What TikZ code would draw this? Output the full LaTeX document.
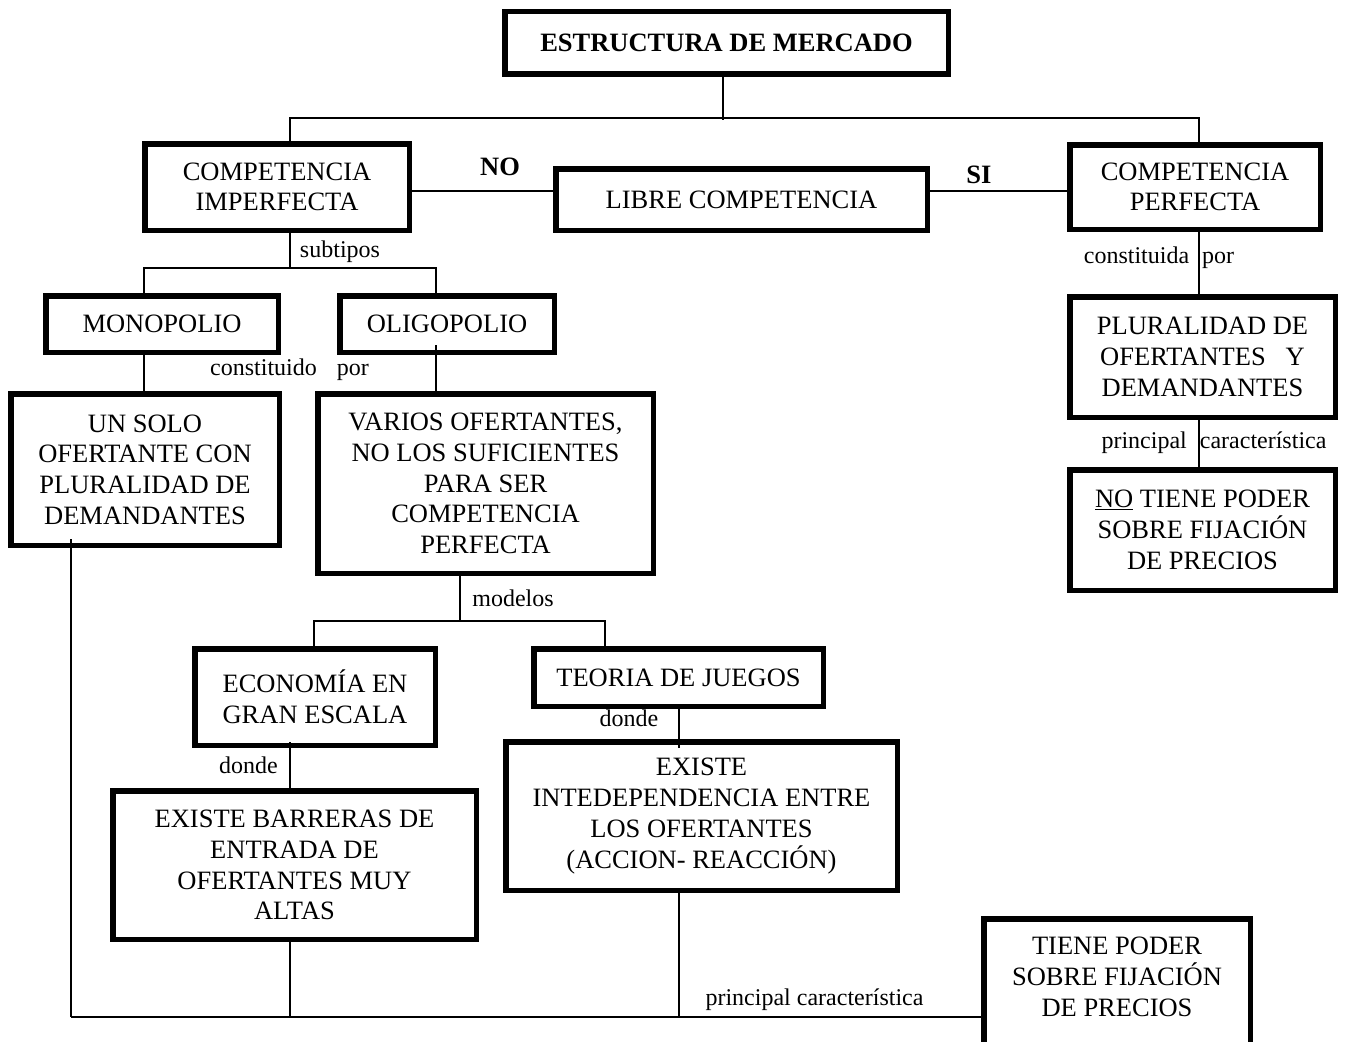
\documentclass[tikz,border=0pt]{standalone}
\usepackage{fontspec}
\setmainfont{Liberation Serif}
\begin{document}
\begin{tikzpicture}[x=1pt,y=-1pt,
  box/.style={draw, line width=5.5pt, inner sep=0pt, align=center,
    font=\fontsize{26.5}{30.7}\selectfont},
  conn/.style={line width=2pt},
  lbl/.style={inner sep=0pt, font=\fontsize{24}{28}\selectfont},
  yesno/.style={inner sep=0pt, font=\fontsize{26.5}{30}\selectfont\bfseries},
  txt/.style={inner sep=0pt, align=center, font=\fontsize{26.5}{30.7}\selectfont}]
\useasboundingbox (0,0) rectangle (1346,1041);

% boxes
\node[box, minimum width=443.5, minimum height=62.5] (top) at (726.5,43) {\bfseries ESTRUCTURA DE MERCADO};
\node[box, minimum width=264.5, minimum height=86.5] (ci) at (277,187) {COMPETENCIA\\IMPERFECTA};
\node[box, minimum width=371.5, minimum height=61.5] (lc) at (741.5,199.5) {LIBRE COMPETENCIA};
\node[box, minimum width=250.5, minimum height=84.5] (cp) at (1195,187) {COMPETENCIA\\PERFECTA};
\node[box, minimum width=232.5, minimum height=56.5] (mono) at (162,324) {MONOPOLIO};
\node[box, minimum width=214.5, minimum height=56.5] (oli) at (447,324) {OLIGOPOLIO};
\node[box, minimum width=268.5, minimum height=151.5] (unsolo) at (145,469.5) {UN SOLO\\OFERTANTE CON\\PLURALIDAD DE\\DEMANDANTES};
\node[box, minimum width=335.5, minimum height=179.5] (varios) at (485.5,483.5) {VARIOS OFERTANTES,\\NO LOS SUFICIENTES\\PARA SER\\COMPETENCIA\\PERFECTA};
\node[box, minimum width=265.5, minimum height=120.5] (plur) at (1202.5,357) {PLURALIDAD DE\\OFERTANTES\ \ \ Y\\DEMANDANTES};
\node[box, minimum width=265.5, minimum height=120.5] (notiene) at (1202.5,530) {\underline{NO} TIENE PODER\\SOBRE FIJACIÓN\\DE PRECIOS};
\node[box, minimum width=240.5, minimum height=96.5] (econ) at (315,697) {ECONOMÍA EN\\GRAN ESCALA};
\node[box, minimum width=289.5, minimum height=57.5] (teoria) at (678.5,677.5) {TEORIA DE JUEGOS};
\node[box, minimum width=363.5, minimum height=148.5] (barreras) at (294.5,865) {EXISTE BARRERAS DE\\ENTRADA DE\\OFERTANTES MUY\\ALTAS};
\node[box, minimum width=391.5, minimum height=148.5] (intedep) at (701.5,816) {EXISTE\\INTEDEPENDENCIA ENTRE\\LOS OFERTANTES\\(ACCION- REACCIÓN)};
\node[box, minimum width=266.5, minimum height=134.5] (tiene) at (1117,986) {};
\node[txt] (tienetxt) at (1117,977) {TIENE PODER\\SOBRE FIJACIÓN\\DE PRECIOS};

% junction coordinates
\coordinate (j1) at (723,120);
\coordinate (cL) at (290,118);
\coordinate (cR) at (1199,118);
\coordinate (hl) at (0,191);
\coordinate (s0) at (290,268);
\coordinate (sL) at (144,268);
\coordinate (sR) at (436,268);
\coordinate (o1) at (436,345);
\coordinate (m0) at (460,621);
\coordinate (mL) at (314,621);
\coordinate (mR) at (605,621);
\coordinate (e1) at (290,742);
\coordinate (t1) at (679,748);
\coordinate (u1) at (71,539);
\coordinate (b0) at (71,1017);
\coordinate (b1) at (290,1017);
\coordinate (b2) at (679,1017);
\coordinate (p1) at (1199,473);

% connectors
\draw[conn] (top.south -| j1) -- (j1);
\draw[conn] (ci.north -| cL) |- (cR) -- (cp.north -| cR);
\draw[conn] (ci.east |- hl) -- (lc.west |- hl);
\draw[conn] (lc.east |- hl) -- (cp.west |- hl);
\draw[conn] (ci.south -| s0) -- (s0);
\draw[conn] (mono.north -| sL) |- (sR) -- (oli.north -| sR);
\draw[conn] (mono.south -| sL) -- (unsolo.north -| sL);
\draw[conn] (o1) -- (varios.north -| o1);
\draw[conn] (varios.south -| m0) -- (m0);
\draw[conn] (econ.north -| mL) |- (mR) -- (teoria.north -| mR);
\draw[conn] (e1) -- (barreras.north -| e1);
\draw[conn] (teoria.south -| t1) -- (t1);
\draw[conn] (cp.south -| cR) -- (plur.north -| cR);
\draw[conn] (plur.south -| p1) -- (p1);
\draw[conn] (u1) -- (b0);
\draw[line width=2.5pt] (b0) -- (tiene.west |- b0);
\draw[conn] (barreras.south -| b1) -- (b1);
\draw[conn] (intedep.south -| b2) -- (b2);

% labels
\node[yesno] (no) at (500,167) {NO};
\node[yesno] (si) at (979,175) {SI};
\node[lbl] (subtipos) at (340,252) {subtipos};
\node[lbl] (constituido) at (289.5,370) {constituido\hspace{14pt} por};
\node[lbl] (constituida) at (1159,258) {constituida\hspace{7pt} por};
\node[lbl] (modelos) at (513,598) {modelos};
\node[lbl] (donde1) at (248.5,765) {donde};
\node[lbl] (donde2) at (629,718) {donde};
\node[lbl] (princ1) at (1214,443) {principal\hspace{7pt} característica};
\node[lbl] (princ2) at (814.5,1000) {principal característica};
\end{tikzpicture}
\end{document}
